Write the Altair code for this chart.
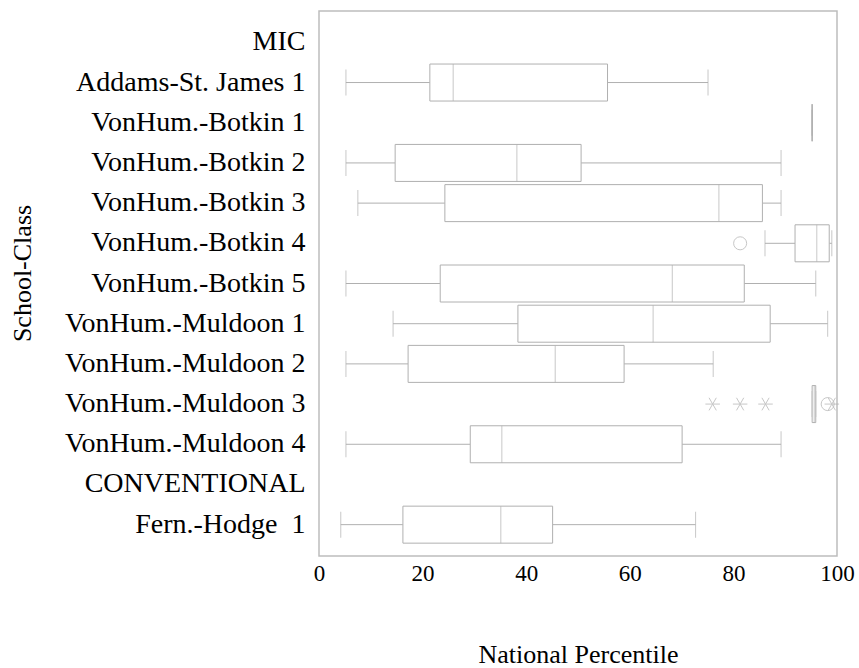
import altair as alt
import pandas as pd

# Category order (top to bottom)
all_classes = ["MIC", "Addams-St. James 1", "VonHum.-Botkin 1", "VonHum.-Botkin 2",
               "VonHum.-Botkin 3", "VonHum.-Botkin 4", "VonHum.-Botkin 5",
               "VonHum.-Muldoon 1", "VonHum.-Muldoon 2", "VonHum.-Muldoon 3",
               "VonHum.-Muldoon 4", "CONVENTIONAL", "Fern.-Hodge\u00a0 1"]

# Box statistics (classes with data)
box_classes = ["Addams-St. James 1", "VonHum.-Botkin 1", "VonHum.-Botkin 2",
               "VonHum.-Botkin 3", "VonHum.-Botkin 4", "VonHum.-Botkin 5",
               "VonHum.-Muldoon 1", "VonHum.-Muldoon 2", "VonHum.-Muldoon 3",
               "VonHum.-Muldoon 4", "Fern.-Hodge\u00a0 1"]
mins    = [5.2, 95.2, 5.2, 7.5, 86.1, 5.2, 14.3, 5.2, 95.2, 5.2, 4.2]
q1s     = [21.4, 95.2, 14.7, 24.3, 91.9, 23.4, 38.4, 17.2, 95.2, 29.2, 16.2]
medians = [25.9, 95.2, 38.2, 77.2, 96.1, 68.2, 64.5, 45.6, 95.6, 35.3, 35.1]
q3s     = [55.7, 95.2, 50.6, 85.6, 98.5, 82.1, 87.1, 58.9, 95.9, 70.1, 45.1]
maxs    = [75.1, 95.2, 89.2, 89.2, 99.0, 95.9, 98.2, 76.1, 95.9, 89.2, 72.7]

# Outliers
out_circle_class = ["VonHum.-Botkin 4", "VonHum.-Muldoon 3"]
out_circle_value = [81.3, 98.2]
out_star_class = ["VonHum.-Muldoon 3", "VonHum.-Muldoon 3", "VonHum.-Muldoon 3", "VonHum.-Muldoon 3"]
out_star_value = [76.0, 81.3, 86.2, 99.0]

boxes = pd.DataFrame({"cls": box_classes, "lo": mins, "q1": q1s, "med": medians,
                      "q3": q3s, "hi": maxs})
circles = pd.DataFrame({"cls": out_circle_class, "v": out_circle_value})
stars = pd.DataFrame({"cls": out_star_class, "v": out_star_value})

GRAY = "#b0b0b0"
FONT = "Liberation Serif"

xscale = alt.Scale(domain=[0, 100], nice=False, zero=False)
yscale = alt.Scale(domain=all_classes, paddingInner=0.5, paddingOuter=0.53)

yaxis = alt.Axis(title="School-Class", labelFont=FONT, labelFontSize=28, labelColor="black",
                 ticks=False, domain=False, labelPadding=14, labelLimit=400,
                 titleFont=FONT, titleFontSize=26, titleFontWeight="normal", titleColor="black",
                 titleX=-297, titleY=262, titleBaseline="middle", titleAngle=270)
xaxis = alt.Axis(title="National Percentile", values=[0, 20, 40, 60, 80, 100], grid=False,
                 ticks=False, domain=False, labelFont=FONT, labelFontSize=23, labelColor="black",
                 labelPadding=6, labelFlush=False, labelOverlap=False,
                 titleFont=FONT, titleFontSize=26, titleFontWeight="normal", titleColor="black",
                 titleY=106, titleBaseline="alphabetic")

base = alt.Chart(boxes)
Y = alt.Y("cls:N", scale=yscale, axis=yaxis, sort=all_classes)

whisk_lo = base.mark_rule(color=GRAY, strokeWidth=1).encode(
    x=alt.X("lo:Q", scale=xscale, axis=xaxis), x2="q1:Q", y=Y)
whisk_hi = base.mark_rule(color=GRAY, strokeWidth=1).encode(
    x=alt.X("q3:Q", scale=xscale), x2="hi:Q", y=Y)
cap_lo = base.mark_tick(color=GRAY, size=26, thickness=1, orient="vertical").encode(
    x=alt.X("lo:Q", scale=xscale), y=Y)
cap_hi = base.mark_tick(color=GRAY, size=26, thickness=1, orient="vertical").encode(
    x=alt.X("hi:Q", scale=xscale), y=Y)
box = base.mark_bar(fill="white", stroke=GRAY, strokeWidth=1, size=37).encode(
    x=alt.X("q1:Q", scale=xscale), x2="q3:Q", y=Y)
med = base.mark_tick(color=GRAY, size=37, thickness=1, orient="vertical").encode(
    x=alt.X("med:Q", scale=xscale), y=Y)

circ = alt.Chart(circles).mark_point(shape="circle", filled=False, color=GRAY, size=170,
                                      strokeWidth=1).encode(
    x=alt.X("v:Q", scale=xscale), y=Y)
star = alt.Chart(stars).mark_point(
    shape="M-1,0L1,0M-0.5,-0.866L0.5,0.866M-0.5,0.866L0.5,-0.866",
    filled=False, color=GRAY, size=210, strokeWidth=1).encode(
    x=alt.X("v:Q", scale=xscale), y=Y)

chart = alt.layer(whisk_lo, whisk_hi, cap_lo, cap_hi, box, med, circ, star).properties(
    width=518, height=545,
    autosize=alt.AutoSizeParams(type="none"),
    padding={"left": 319, "top": 11, "right": 22, "bottom": 112},
    background="white",
).configure_view(stroke="#bdbdbd", strokeWidth=1.5)

chart.save("out.html", embed_options={"renderer": "svg", "actions": False})
